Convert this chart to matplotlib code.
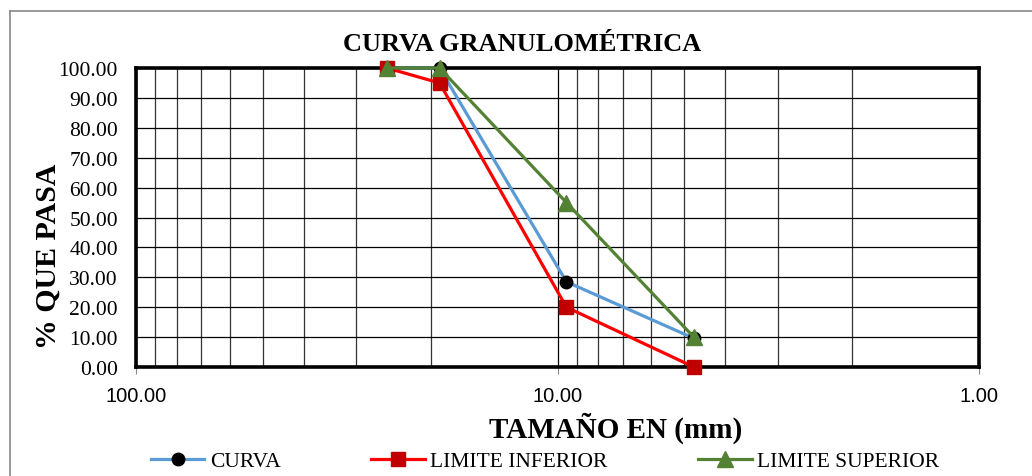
import matplotlib
matplotlib.use("Agg")
import matplotlib.pyplot as plt
from matplotlib.lines import Line2D
from matplotlib.ticker import FixedLocator, FuncFormatter, NullFormatter

# sieve openings (mm) and % passing
tamanos = [25.4, 19.05, 9.525, 4.75]
curva = [100.0, 100.0, 28.5, 9.6]
lim_inferior = [100.0, 95.0, 20.0, 0.0]
lim_superior = [100.0, 100.0, 55.0, 10.0]

y_ticks = [0, 10, 20, 30, 40, 50, 60, 70, 80, 90, 100]
x_major = [100, 10, 1]
x_minor = [90, 80, 70, 60, 50, 40, 30, 20, 9, 8, 7, 6, 5, 4, 3, 2]

serif = "Liberation Serif"
sans = "Liberation Sans"

fig = plt.figure(figsize=(10.32, 4.77), dpi=100)
ax = fig.add_axes([136 / 1032, 1 - 368 / 477, (979 - 136) / 1032, (368 - 69) / 477])

ax.plot(tamanos, curva, color="#5B9BD5", lw=2.3, marker="o", ms=9,
        mfc="black", mec="black", label="CURVA", clip_on=False, zorder=3)
ax.plot(tamanos, lim_inferior, color="#FF0000", lw=2.3, marker="s", ms=10,
        mfc="#C00000", mec="#C00000", label="LIMITE INFERIOR", clip_on=False, zorder=4)
ax.plot(tamanos, lim_superior, color="#548235", lw=2.3, marker="^", ms=11,
        mfc="#548235", mec="#548235", label="LIMITE SUPERIOR", clip_on=False, zorder=5)

ax.set_xscale("log")
ax.set_xlim(100, 1)
ax.set_ylim(0, 100)

ax.xaxis.set_major_locator(FixedLocator(x_major))
ax.xaxis.set_minor_locator(FixedLocator(x_minor))
ax.xaxis.set_major_formatter(FuncFormatter(lambda v, p: f"{v:.2f}"))
ax.xaxis.set_minor_formatter(NullFormatter())
ax.set_yticks(y_ticks)
ax.yaxis.set_major_formatter(FuncFormatter(lambda v, p: f"{v:.2f}"))

for lab in ax.get_xticklabels():
    lab.set_fontfamily(sans)
    lab.set_fontsize(14.5)
for lab in ax.get_yticklabels():
    lab.set_fontfamily(serif)
    lab.set_fontsize(15.5)

ax.tick_params(axis="x", which="major", direction="out", length=5, color="#888888", pad=9)
ax.tick_params(axis="x", which="minor", length=0)
ax.tick_params(axis="y", length=0, pad=13)

ax.grid(True, which="major", color="black", lw=0.9)
ax.grid(True, which="minor", axis="x", color="#333333", lw=0.9)
ax.set_axisbelow(True)

for s in ax.spines.values():
    s.set_linewidth(2.6)
    s.set_color("black")

ax.text(0.4585, 1.083, "CURVA GRANULOMÉTRICA", transform=ax.transAxes,
        ha="center", va="center", fontfamily=serif, fontweight="bold", fontsize=19)
ax.set_xlabel("TAMAÑO EN (mm)", fontfamily=serif, fontweight="bold", fontsize=21)
ax.xaxis.set_label_coords(0.5685, -0.2, transform=ax.transAxes)
ax.xaxis.label.set_va("center")
ax.set_ylabel("% QUE PASA", fontfamily=serif, fontweight="bold", fontsize=21.5)
ax.yaxis.set_label_coords(-0.104, 0.375, transform=ax.transAxes)
ax.yaxis.label.set_va("center")

leg = fig.legend(loc="center", bbox_to_anchor=(545 / 1032, 1 - 462 / 477), ncol=3,
                 frameon=False, prop={"family": serif, "size": 15.5},
                 handlelength=2.5, handletextpad=0.25, columnspacing=4.2)

# outer chart frame (clipped on right and bottom)
fig.add_artist(Line2D([10 / 1032, 10 / 1032], [0, 1 - 12 / 477], transform=fig.transFigure,
                      color="#888888", lw=1.2))
fig.add_artist(Line2D([10 / 1032, 1], [1 - 12 / 477, 1 - 12 / 477], transform=fig.transFigure,
                      color="#888888", lw=1.2))

fig.savefig("out.png", dpi=100, facecolor="white")
